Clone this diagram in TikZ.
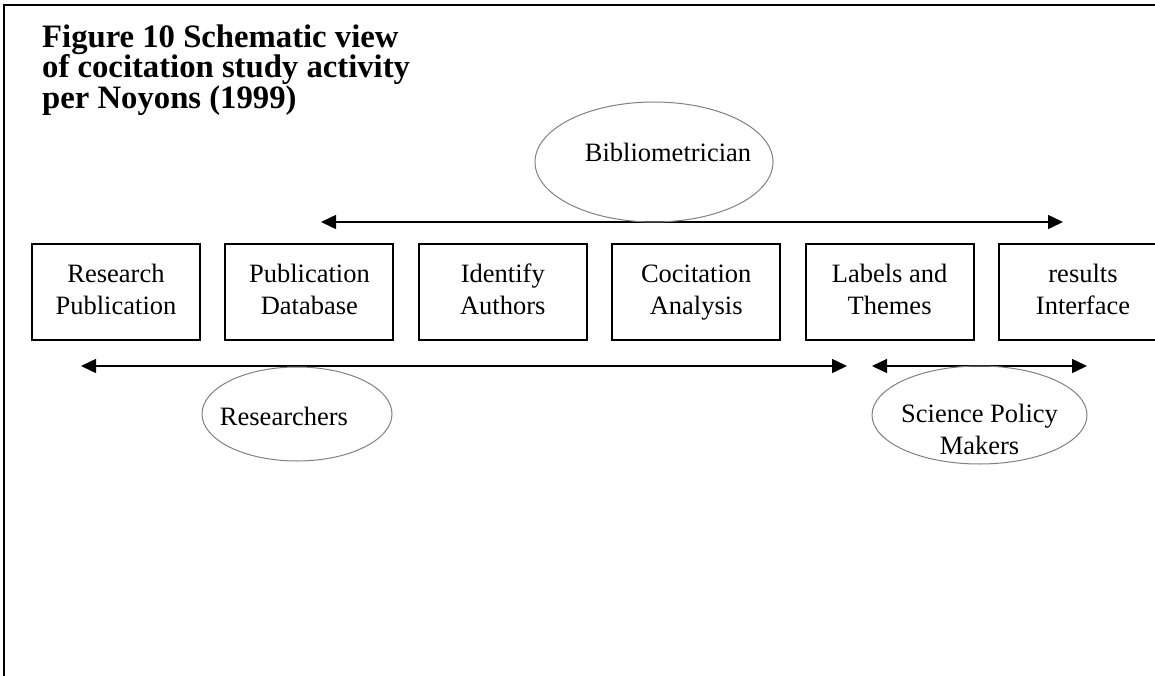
\documentclass[tikz,border=0pt]{standalone}
\usepackage{fontspec}
\setmainfont{Liberation Serif}
\usetikzlibrary{arrows.meta, positioning, shapes.geometric}

% two struts so every box sets its lines at the same height
\newcommand{\twolines}[2]{\strut#1\\\strut#2}

\begin{document}
\begin{tikzpicture}[x=1pt, y=-1pt,
    stage/.style={draw, line width=1.9pt, minimum width=168pt, minimum height=96pt,
        align=center, inner sep=0pt, font=\fontsize{26.5}{32}\selectfont},
    actor/.style={ellipse, draw=gray, line width=1pt, inner sep=0pt},
    actorname/.style={align=center, inner sep=0pt, font=\fontsize{26.5}{32}\selectfont},
    span/.style={{Triangle[length=15pt,width=14pt]}-{Triangle[length=15pt,width=14pt]}, line width=1.5pt}]
    % Fix the page size
    \useasboundingbox (0,0) rectangle (1155,676);

    % Frame on the left and top
    \draw[line width=2.5pt] (4,676) -- (4,5) -- (1155,5);

    % Title
    \node[anchor=north west, align=left, inner sep=0pt,
          font=\bfseries\fontsize{32.7}{30.5}\selectfont] (title) at (42,24.5)
          {Figure 10 Schematic view\\of cocitation study activity\\per Noyons (1999)};

    % Row of activity boxes
    \node[stage] (pub) at (116,292) {\twolines{Research}{Publication}};
    \node[stage, right=23.5pt of pub] (db) {\twolines{Publication}{Database}};
    \node[stage, right=23.5pt of db] (auth) {\twolines{Identify}{Authors}};
    \node[stage, right=23.5pt of auth] (cocit) {\twolines{Cocitation}{Analysis}};
    \node[stage, right=23.5pt of cocit] (themes) {\twolines{Labels and}{Themes}};
    \node[stage, right=23.5pt of themes] (iface) {\twolines{results}{Interface}};

    % Bibliometrician and its span
    \coordinate (bibL) at (321,222);
    \coordinate (bibR) at (1063,222);
    \draw[span] (bibL) -- (bibR);
    \node[actor, minimum width=238pt, minimum height=120pt] (bib) at (654,162) {};
    \node[actorname, anchor=base] (bibtext) at (668,162) {Bibliometrician};

    % Researchers and their span
    \coordinate (resL) at (81,366);
    \coordinate (resR) at (847,366);
    \draw[span] (resL) -- (resR);
    \node[actor, minimum width=190pt, minimum height=94pt] (res) at (297,414) {};
    \node[actorname, anchor=base] (restext) at (284,425) {Researchers};

    % Science policy makers and their span
    \coordinate (polL) at (872,366);
    \coordinate (polR) at (1087,366);
    \draw[span] (polL) -- (polR);
    \node[actor, minimum width=215pt, minimum height=98pt] (pol) at (979.5,415) {};
    \node[actorname] (poltext) at (979.5,429) {Science Policy\\Makers};
\end{tikzpicture}
\end{document}
